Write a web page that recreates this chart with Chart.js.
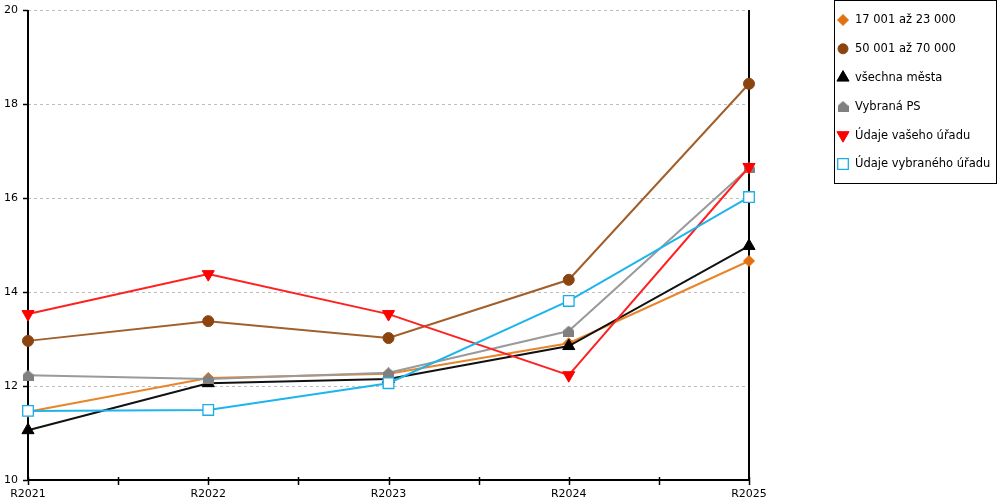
<!DOCTYPE html>
<html>
<head>
<meta charset="utf-8">
<script src="https://cdn.jsdelivr.net/npm/chart.js@4/dist/chart.umd.min.js"></script>
<style>
html,body{margin:0;padding:0;background:#fff;}
#wrap{width:1000px;height:500px;position:relative;}
</style>
</head>
<body>
<div id="wrap"><canvas id="c"></canvas></div>
<script>
const categories = ['R2021','R2022','R2023','R2024','R2025'];
const seriesNames = ['17 001 až 23 000','50 001 až 70 000','všechna města','Vybraná PS','Údaje vašeho úřadu','Údaje vybraného úřadu'];
const s17001 = [11.45, 12.17, 12.26, 12.91, 14.66];
const s50001 = [12.96, 13.38, 13.02, 14.26, 18.43];
const sVsechna = [11.06, 12.06, 12.15, 12.85, 14.98];
const sVybranaPS = [12.23, 12.15, 12.28, 13.17, 16.64];
const sVasUrad = [13.53, 14.38, 13.53, 12.23, 16.66];
const sVybranyUrad = [11.47, 11.49, 12.06, 13.81, 16.02];
const yMin = 10, yMax = 20, yStep = 2;

const FONT = 'DejaVu Sans';

// house-shaped marker for "Vybraná PS"
function houseIcon(color){
  const c = document.createElement('canvas');
  c.width = 11; c.height = 11;
  const g = c.getContext('2d');
  g.fillStyle = color;
  g.beginPath();
  g.moveTo(5.5,0); g.lineTo(11,5); g.lineTo(11,11); g.lineTo(0,11); g.lineTo(0,5); g.closePath();
  g.fill();
  return c;
}
const house = houseIcon('#808080');

const styles = [
  {line:'#E8852A', fill:'#E07010', border:'#E07010', ps:'rectRot', r:5.5, rot:0, bw:1},
  {line:'#A35F2A', fill:'#8B4410', border:'#8B4410', ps:'circle', r:5.5, rot:0, bw:1},
  {line:'#111111', fill:'#000000', border:'#000000', ps:'triangle', r:7, rot:0, bw:1},
  {line:'#9A9A9A', fill:'#808080', border:'#808080', ps:house, r:6, rot:0, bw:1},
  {line:'#FF2020', fill:'#FF0000', border:'#FF0000', ps:'triangle', r:7, rot:180, bw:1},
  {line:'#1EB4EC', fill:'#FFFFFF', border:'#1AAEE8', ps:'rect', r:7.5, rot:0, bw:1.3}
];
const values = [s17001, s50001, sVsechna, sVybranaPS, sVasUrad, sVybranyUrad];

const datasets = values.map((v,i)=>({
  label: seriesNames[i],
  data: v,
  borderColor: styles[i].line,
  borderWidth: 2,
  backgroundColor: styles[i].fill,
  pointBackgroundColor: styles[i].fill,
  pointBorderColor: styles[i].border,
  pointBorderWidth: styles[i].bw,
  pointStyle: styles[i].ps,
  pointRadius: styles[i].r,
  pointHoverRadius: styles[i].r,
  pointRotation: styles[i].rot,
  tension: 0,
  fill: false,
  clip: false,
  order: values.length - i
}));

const framePlugin = {
  id: 'frame',
  beforeDatasetsDraw(chart){
    const ctx = chart.ctx, a = chart.chartArea;
    const ys = chart.scales.y, xs = chart.scales.x;
    ctx.save();
    ctx.strokeStyle = '#BDBDBD';
    ctx.lineWidth = 1;
    ctx.setLineDash([3,3]);
    for (let v = yMin + yStep; v <= yMax; v += yStep){
      const y = Math.round(ys.getPixelForValue(v)) + 0.5;
      ctx.beginPath(); ctx.moveTo(a.left, y); ctx.lineTo(a.right, y); ctx.stroke();
    }
    ctx.setLineDash([]);
    ctx.strokeStyle = '#000';
    ctx.lineWidth = 1.5;
    for (let v = yMin; v <= yMax; v += yStep){
      const y = Math.round(ys.getPixelForValue(v)) + 0.5;
      ctx.beginPath(); ctx.moveTo(a.left - 5, y); ctx.lineTo(a.left, y); ctx.stroke();
    }
    for (let i = 0; i < categories.length; i++){
      const pts = [xs.getPixelForValue(i)];
      if (i < categories.length - 1) pts.push((xs.getPixelForValue(i) + xs.getPixelForValue(i+1)) / 2);
      pts.forEach(px => {
        const x = Math.round(px) + 0.5;
        ctx.beginPath(); ctx.moveTo(x, a.bottom - 3); ctx.lineTo(x, a.bottom + 5); ctx.stroke();
      });
    }
    ctx.lineWidth = 2;
    ctx.beginPath();
    ctx.moveTo(a.left, a.top); ctx.lineTo(a.left, a.bottom); ctx.lineTo(a.right, a.bottom); ctx.lineTo(a.right, a.top);
    ctx.stroke();
    ctx.restore();
  }
};

const legendPlugin = {
  id: 'boxLegend',
  afterDraw(chart){
    const ctx = chart.ctx;
    ctx.save();
    ctx.strokeStyle = '#000';
    ctx.lineWidth = 1;
    ctx.strokeRect(834.5, 0.5, 162, 183);
    ctx.font = '11.5px "' + FONT + '"';
    ctx.textBaseline = 'middle';
    ctx.textAlign = 'left';
    chart.data.datasets.forEach((ds, i) => {
      const y = 20 + i * 28.8;
      const x = 843;
      ctx.fillStyle = ds.pointBackgroundColor;
      ctx.strokeStyle = ds.pointBorderColor;
      ctx.lineWidth = ds.pointBorderWidth;
      const r = ds.pointStyle === 'circle' ? 5 : (ds.pointStyle === 'rectRot' ? 5.5 : ds.pointRadius);
      Chart.helpers.drawPoint(ctx, {pointStyle: ds.pointStyle, radius: r, rotation: ds.pointRotation, borderWidth: ds.pointBorderWidth}, x, y);
      ctx.fillStyle = '#000';
      ctx.fillText(ds.label, 855, y + 0.5);
    });
    ctx.restore();
  }
};

new Chart(document.getElementById('c'), {
  type: 'line',
  data: { labels: categories, datasets: datasets },
  options: {
    responsive: true,
    maintainAspectRatio: false,
    devicePixelRatio: 1,
    animation: false,
    layout: { padding: { top: 10, right: 251, left: 0, bottom: 0 } },
    plugins: { legend: { display: false }, tooltip: { enabled: false } },
    events: [],
    scales: {
      x: {
        type: 'category',
        offset: false,
        grid: { display: false, drawTicks: false },
        border: { display: false },
        ticks: { color: '#000', font: { family: FONT, size: 11 }, padding: 8, maxRotation: 0, autoSkip: false },
        afterFit(s){ s.height = 20; s.paddingLeft = 0; s.paddingRight = 0; }
      },
      y: {
        min: yMin, max: yMax,
        grid: { display: false, drawTicks: false },
        border: { display: false },
        ticks: { stepSize: yStep, color: '#000', font: { family: FONT, size: 11 }, padding: 10 },
        afterFit(s){ s.width = 28; s.paddingTop = 0; s.paddingBottom = 0; }
      }
    }
  },
  plugins: [framePlugin, legendPlugin]
});
</script>
</body>
</html>
